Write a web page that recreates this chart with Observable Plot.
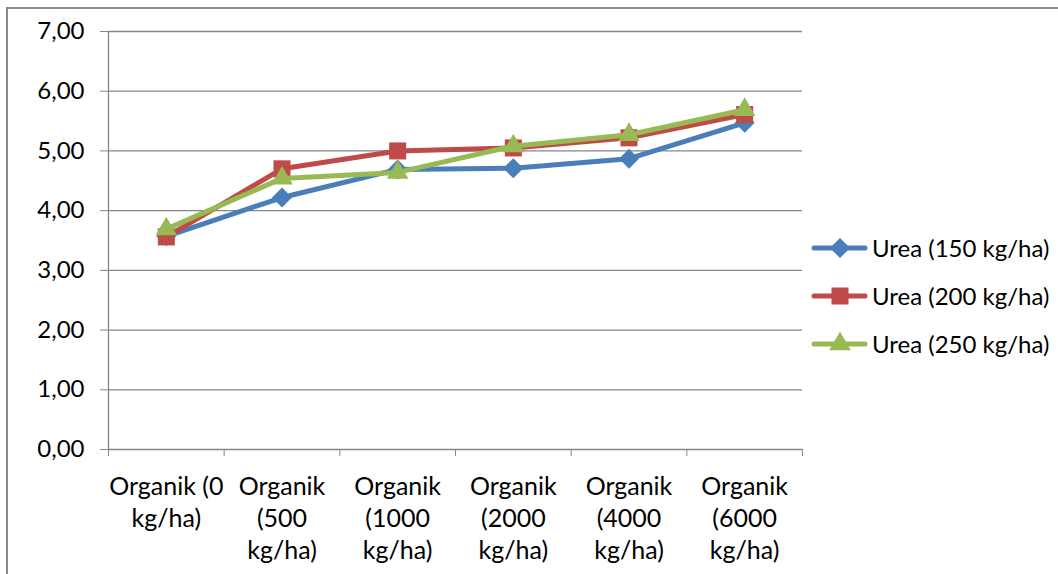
<!DOCTYPE html>
<html>
<head>
<meta charset="utf-8">
<script src="https://cdn.jsdelivr.net/npm/d3@7"></script>
<script src="https://cdn.jsdelivr.net/npm/@observablehq/plot@0.6"></script>
<style>
  html, body { margin: 0; padding: 0; background: #fff; }
  body { width: 1058px; height: 574px; position: relative; overflow: hidden; font-family: Lato, "Open Sans", sans-serif; }
  #frame { position: absolute; left: 6px; top: 7px; width: 1100px; height: 600px; border-left: 2px solid #8a8a8a; border-top: 2px solid #8a8a8a; }
  #chart { position: absolute; left: 0; top: 0; }
  #legend { position: absolute; left: 810px; top: 0; }
  .item { position: absolute; left: 0; display: flex; align-items: center; white-space: nowrap; font-family: Lato, sans-serif; font-size: 24px; line-height: 30px; color: #000; }
  .item svg { display: block; margin-right: 4px; }
</style>
</head>
<body>
<div id="frame"></div>
<div id="chart"></div>
<div id="legend"></div>
<script>
const categories = [
  "Organik (0\nkg/ha)",
  "Organik\n(500\nkg/ha)",
  "Organik\n(1000\nkg/ha)",
  "Organik\n(2000\nkg/ha)",
  "Organik\n(4000\nkg/ha)",
  "Organik\n(6000\nkg/ha)"
];
const seriesNames = ["Urea (150 kg/ha)", "Urea (200 kg/ha)", "Urea (250 kg/ha)"];
const urea150 = [3.57, 4.22, 4.69, 4.71, 4.87, 5.47];
const urea200 = [3.56, 4.70, 5.00, 5.05, 5.22, 5.61];
const urea250 = [3.69, 4.54, 4.64, 5.08, 5.27, 5.69];
const yTicks = [0, 1, 2, 3, 4, 5, 6, 7];

const colors = ["#4A7EBB", "#BE4B48", "#98B954"];
const symbols = ["diamond2", "square", "triangle"];
const radii = [9, 9.6, 8];

const seriesValues = [urea150, urea200, urea250];
const data = [];
seriesValues.forEach((vals, s) => vals.forEach((v, i) => data.push({series: seriesNames[s], x: i, y: v})));

const boundaries = d3.range(categories.length + 1).map(i => i - 0.5);
const fmt = d => d3.format(".2f")(d).replace(".", ",");

const marks = [
  Plot.ruleY(yTicks, {stroke: "#868686", strokeWidth: 1.3}),
  Plot.ruleX([-0.5], {stroke: "#868686", strokeWidth: 1.3}),
  Plot.axisY({ticks: yTicks, tickSize: 8, tickPadding: 16, tickFormat: fmt, fontSize: 24, fontFamily: "Lato", color: "#000", stroke: "#868686", label: null}),
  Plot.axisX({ticks: boundaries, tickSize: 7, tickFormat: () => "", stroke: "#868686", label: null}),
  Plot.text(categories, {x: (d, i) => i, frameAnchor: "bottom", dy: 23, lineAnchor: "top", lineHeight: 1.28, fontSize: 25, fontFamily: "Lato", fill: "#000"})
];
seriesNames.forEach((name, s) => {
  const rows = data.filter(d => d.series === name);
  marks.push(Plot.line(rows, {x: "x", y: "y", stroke: colors[s], strokeWidth: 5, strokeLinejoin: "round", strokeLinecap: "round"}));
  marks.push(Plot.dot(rows, {x: "x", y: "y", symbol: () => symbols[s], r: radii[s], fill: colors[s], stroke: "none"}));
});

const chart = Plot.plot({
  width: 1058,
  height: 574,
  marginLeft: 108,
  marginRight: 256,
  marginTop: 31,
  marginBottom: 125,
  style: {background: "transparent", fontFamily: "Lato, 'Open Sans', sans-serif"},
  x: {type: "linear", domain: [-0.5, categories.length - 0.5], axis: null},
  y: {domain: [0, 7], axis: null},
  symbol: {type: "identity"},
  marks
});
document.getElementById("chart").appendChild(chart);

// legend
const legend = document.getElementById("legend");
const legendY = [248, 296, 344];
seriesNames.forEach((name, s) => {
  const item = document.createElement("div");
  item.className = "item";
  item.style.top = (legendY[s] - 15) + "px";
  item.style.height = "30px";
  const sym = d3.symbol(d3[{diamond2: "symbolDiamond2", square: "symbolSquare", triangle: "symbolTriangle"}[symbols[s]]], Math.PI * radii[s] * radii[s])();
  item.innerHTML = `<svg width="58" height="30"><line x1="4" x2="55" y1="15" y2="15" stroke="${colors[s]}" stroke-width="5" stroke-linecap="round"/><path transform="translate(30,15)" d="${sym}" fill="${colors[s]}"/></svg><span>${name}</span>`;
  legend.appendChild(item);
});
</script>
</body>
</html>
